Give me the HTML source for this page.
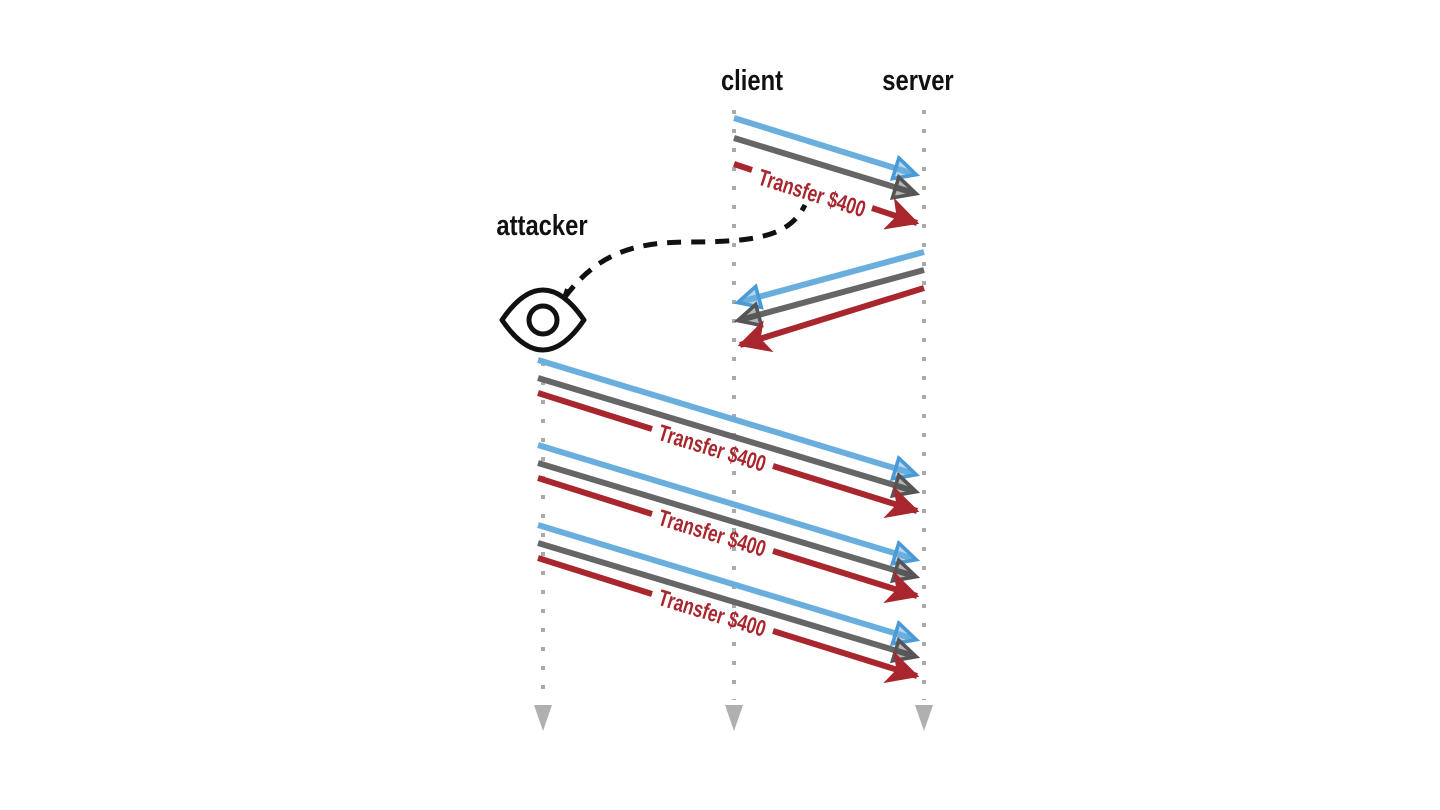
<!DOCTYPE html>
<html><head><meta charset="utf-8"><style>
html,body{margin:0;padding:0;background:#fff;width:1440px;height:810px;overflow:hidden}
text{font-family:"Liberation Sans Narrow","Liberation Sans",sans-serif}
</style></head><body>
<svg width="1440" height="810" viewBox="0 0 1440 810" xmlns="http://www.w3.org/2000/svg">
<defs>
<marker id="ab" markerWidth="5" markerHeight="5" refX="3.6" refY="2.2" orient="auto" markerUnits="strokeWidth"><path d="M0.4,0.4 L4,2.2 L0.4,4 Z" fill="#6aaede" fill-opacity="0.5" stroke="#4a9ad6" stroke-width="0.6"/></marker>
<marker id="ag" markerWidth="5" markerHeight="5" refX="3.6" refY="2.2" orient="auto" markerUnits="strokeWidth"><path d="M0.4,0.4 L4,2.2 L0.4,4 Z" fill="#444" fill-opacity="0.4" stroke="#555" stroke-width="0.6"/></marker>
<marker id="ar" markerWidth="6" markerHeight="6" refX="5" refY="2.8" orient="auto" markerUnits="strokeWidth"><path d="M0,0 L5.4,2.8 L0,5.6 L1.4,2.8 Z" fill="#a8262e"/></marker>
</defs>
<g stroke="#aaa" stroke-width="4" stroke-dasharray="4 15">
<line x1="543" y1="362" x2="543" y2="700"/>
<line x1="734" y1="110" x2="734" y2="700"/>
<line x1="924" y1="110" x2="924" y2="700"/>
</g>
<g fill="#b0b0b0">
<path d="M534,705 L552,705 L543,731 Z"/>
<path d="M725,705 L743,705 L734,731 Z"/>
<path d="M915,705 L933,705 L924,731 Z"/>
</g>
<g font-size="29" font-weight="bold" fill="#111" text-anchor="middle">
<text x="752" y="90" transform="translate(752 0) scale(0.82 1) translate(-752 0)">client</text>
<text x="918" y="90" transform="translate(918 0) scale(0.82 1) translate(-918 0)">server</text>
<text x="542" y="235" transform="translate(542 0) scale(0.82 1) translate(-542 0)">attacker</text>
</g>
<g stroke-width="6" fill="none">
<line x1="734" y1="118" x2="914" y2="174" stroke="#6aaede" marker-end="url(#ab)"/>
<line x1="734" y1="138" x2="914" y2="193" stroke="#666" marker-end="url(#ag)"/>
<path d="M734,164 L752,170 M872,208 L917,223" stroke="#a8262e" marker-end="url(#ar)"/>
<line x1="924" y1="252" x2="740" y2="302" stroke="#6aaede" marker-end="url(#ab)"/>
<line x1="924" y1="270" x2="740" y2="320" stroke="#666" marker-end="url(#ag)"/>
<line x1="924" y1="288" x2="740" y2="345" stroke="#a8262e" marker-end="url(#ar)"/>
</g>
<text x="812" y="201" font-size="23" font-weight="bold" fill="#a8262e" text-anchor="middle" transform="rotate(17.5 812 193) translate(812 0) scale(0.75 1) translate(-812 0)">Transfer $400</text>
<g id="grp">
<line x1="538" y1="360" x2="914" y2="474" stroke="#6aaede" stroke-width="6" marker-end="url(#ab)"/>
<line x1="538" y1="378" x2="914" y2="491" stroke="#666" stroke-width="6" marker-end="url(#ag)"/>
<path d="M538,393 L652,429 M773,466 L917,511" stroke="#a8262e" stroke-width="6" fill="none" marker-end="url(#ar)"/>
<text x="712" y="456" font-size="23" font-weight="bold" fill="#a8262e" text-anchor="middle" transform="rotate(17 712 449) translate(712 0) scale(0.75 1) translate(-712 0)">Transfer $400</text>
</g>
<use href="#grp" transform="translate(0 85)"/>
<use href="#grp" transform="translate(0 165)"/>
<path d="M565,297 C600,250 640,242 690,242 C760,242 790,235 805,205" stroke="#111" stroke-width="5" fill="none" stroke-dasharray="14 10"/>
<path d="M502,320 Q543,260 584,320 Q543,380 502,320 Z" fill="none" stroke="#111" stroke-width="5" stroke-linejoin="round"/>
<circle cx="543" cy="320" r="14" fill="none" stroke="#111" stroke-width="5"/>
<line x1="564" y1="298" x2="567" y2="289" stroke="#111" stroke-width="4"/>
</svg>
</body></html>
